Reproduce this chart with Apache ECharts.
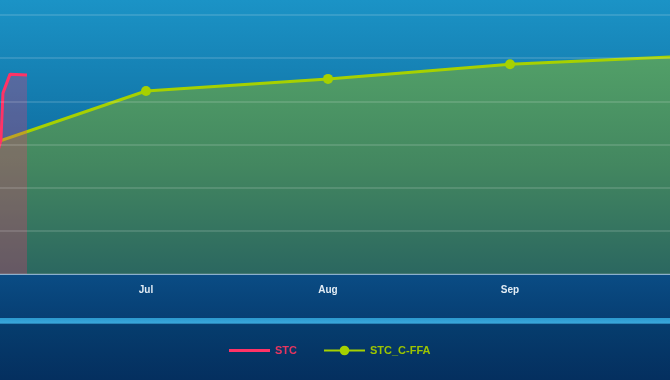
<!DOCTYPE html>
<html>
<head>
<meta charset="utf-8">
<script src="https://cdn.jsdelivr.net/npm/echarts@6/dist/echarts.min.js"></script>
<style>
html,body{margin:0;padding:0;background:#052f5f;}
#chart{width:670px;height:380px;}
</style>
</head>
<body>
<div id="chart"></div>
<script>
// Month categories placed on a numeric x axis (0 = Jun, 1 = Jul, ...)
var months = ['Jun', 'Jul', 'Aug', 'Sep', 'Oct'];
var monthPos = [0, 1, 2, 3, 4];
var labelPos = [1, 2, 3];

// STC_C-FFA monthly values
var ffaValues = [28, 42.4, 45.2, 48.6, 50.5];

// STC values (fractional month positions)
var stcPos = [0.18, 0.203, 0.214, 0.253, 0.346];
var stcValues = [27.5, 31, 41.9, 46.3, 46.1];

var ffaData = monthPos.map(function (p, i) { return [p, ffaValues[i]]; });
var stcData = stcPos.map(function (p, i) { return [p, stcValues[i]]; });

var chart = echarts.init(document.getElementById('chart'));
chart.setOption({
  animation: false,
  backgroundColor: {
    type: 'linear', x: 0, y: 0, x2: 0, y2: 1,
    colorStops: [
      { offset: 0, color: '#1b93c6' },
      { offset: 0.38, color: '#1070a3' },
      { offset: 0.72, color: '#0c5a8d' },
      { offset: 0.725, color: '#0a4c84' },
      { offset: 0.836, color: '#073f74' },
      { offset: 0.838, color: '#2d9ad0' },
      { offset: 0.85, color: '#3aa7da' },
      { offset: 0.854, color: '#063d6e' },
      { offset: 1, color: '#042f5f' }
    ]
  },
  grid: { left: 0, right: 0, top: 15, bottom: 106, containLabel: false, outerBoundsMode: 'none' },
  legend: {
    left: 224,
    top: 340,
    itemWidth: 41,
    itemHeight: 12,
    itemGap: 26,
    textStyle: { fontSize: 11, fontWeight: 'bold', fontFamily: 'Liberation Sans, Arial, sans-serif' },
    data: [
      { name: 'STC', icon: 'path://M0,0 L40,0 L40,3 L0,3 Z', textStyle: { color: '#e8355f' } },
      { name: 'STC_C-FFA', textStyle: { color: '#9cc500' } }
    ]
  },
  xAxis: {
    type: 'value',
    min: 0.1978, max: 3.879,
    axisLine: { show: true, lineStyle: { color: 'rgba(170,200,225,0.7)', width: 2 } },
    axisTick: { show: false },
    splitLine: { show: false },
    axisLabel: {
      color: '#e2ecf4', fontSize: 10, fontWeight: 'bold', margin: 11,
      fontFamily: 'Liberation Sans, Arial, sans-serif',
      customValues: labelPos,
      formatter: function (v) { return months[Math.round(v)] || ''; }
    }
  },
  yAxis: {
    type: 'value',
    z: 5,
    min: 0, max: 60, interval: 10,
    axisLine: { show: false },
    axisTick: { show: false },
    axisLabel: { show: false },
    splitLine: { lineStyle: { color: 'rgba(255,255,255,0.13)', width: 2 } }
  },
  series: [
    {
      name: 'STC',
      type: 'line',
      data: stcData,
      z: 3,
      clip: true,
      showSymbol: false,
      symbol: 'none',
      lineStyle: { color: '#ff3366', width: 3 },
      itemStyle: { color: '#ff3366' },
      areaStyle: { color: 'rgba(255,50,110,0.4)' }
    },
    {
      name: 'STC_C-FFA',
      type: 'line',
      data: ffaData,
      z: 2,
      clip: true,
      symbol: 'circle',
      symbolSize: 10,
      lineStyle: { color: '#a6d100', width: 3 },
      itemStyle: { color: '#a6d100' },
      areaStyle: {
        opacity: 1,
        color: {
          type: 'linear', x: 0, y: 0, x2: 0, y2: 1,
          colorStops: [
            { offset: 0, color: '#52a068' },
            { offset: 0.5, color: '#438760' },
            { offset: 1, color: '#2b6760' }
          ]
        }
      }
    }
  ]
});
</script>
</body>
</html>
